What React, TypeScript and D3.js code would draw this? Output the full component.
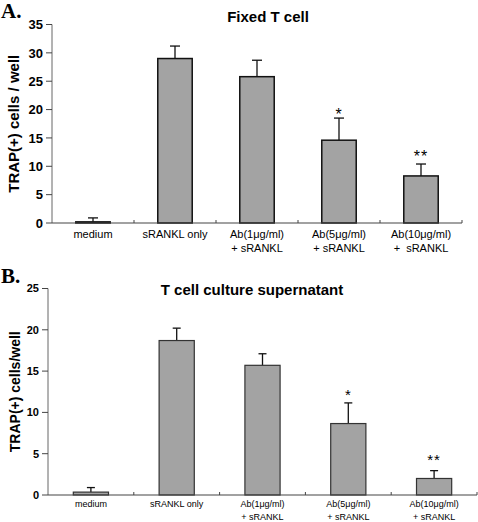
import React from "react";
import * as d3 from "d3";

const categoriesA = ["medium", "sRANKL only", "Ab(1μg/ml)\n+ sRANKL", "Ab(5μg/ml)\n+ sRANKL", "Ab(10μg/ml)\n+  sRANKL"];
const valuesA = [0.2, 29.0, 25.8, 14.6, 8.3];
const errorsA = [0.7, 2.2, 2.9, 3.9, 2.1];
const starsA = ["", "", "", "*", "**"];
const starPosA = [0, 0, 0, 19.8, 12.4];
const ticksA = [0, 5, 10, 15, 20, 25, 30, 35];

const categoriesB = ["medium", "sRANKL only", "Ab(1μg/ml)\n+ sRANKL", "Ab(5μg/ml)\n+ sRANKL", "Ab(10μg/ml)\n+ sRANKL"];
const valuesB = [0.35, 18.7, 15.7, 8.65, 2.0];
const errorsB = [0.55, 1.5, 1.4, 2.5, 0.95];
const starsB = ["", "", "", "*", "**"];
const starPosB = [0, 0, 0, 12.6, 4.7];
const ticksB = [0, 5, 10, 15, 20, 25];

const SANS = "'Liberation Sans', Arial, sans-serif";
const SERIF = "'Liberation Serif', 'Times New Roman', serif";

type PanelProps = {
  letter: string;
  letterY: number;
  title: string;
  titleX: number;
  titleY: number;
  yLabel: string;
  yLabelX: number;
  yLabelFont: number;
  categories: string[];
  values: number[];
  errors: number[];
  stars: string[];
  starPos: number[];
  ticks: number[];
  yMax: number;
  x0: number;
  x1: number;
  yTop: number;
  yBottom: number;
  tickFont: number;
  xFont: number;
  xLine1: number;
  xLineGap: number;
  barFrac: number;
  capW: number;
  barStroke: string;
  barStrokeW: number;
  starFont: number;
};

function Panel(p: PanelProps) {
  const x = d3.scaleBand<string>().domain(p.categories).range([p.x0, p.x1]).paddingInner(0).paddingOuter(0);
  const y = d3.scaleLinear().domain([0, p.yMax]).range([p.yBottom, p.yTop]);
  const bw = x.bandwidth() * p.barFrac;
  const yMid = (p.yTop + p.yBottom) / 2;
  return (
    <g>
      <text x={1} y={p.letterY} fontFamily={SERIF} fontWeight="bold" fontSize={21}>{p.letter}</text>
      <text x={p.titleX} y={p.titleY} textAnchor="middle" fontFamily={SANS} fontWeight="bold" fontSize={15}>{p.title}</text>
      <text transform={`translate(${p.yLabelX},${yMid}) rotate(-90)`} textAnchor="middle" fontFamily={SANS} fontWeight="bold" fontSize={p.yLabelFont}>{p.yLabel}</text>
      {/* y axis */}
      <line x1={p.x0} x2={p.x0} y1={y(p.yMax)} y2={p.yBottom} stroke="#666" strokeWidth={1} />
      {p.ticks.map((t) => (
        <g key={t}>
          <line x1={p.x0 - 6} x2={p.x0} y1={y(t)} y2={y(t)} stroke="#444" strokeWidth={1} />
          <text x={p.x0 - 9} y={y(t)} dy="0.36em" textAnchor="end" fontFamily={SANS} fontWeight="bold" fontSize={p.tickFont}>{t}</text>
        </g>
      ))}
      {/* bars */}
      {p.categories.map((c, i) => {
        const cx = (x(c) as number) + x.bandwidth() / 2;
        const top = y(p.values[i]);
        const et = y(p.values[i] + p.errors[i]);
        return (
          <g key={c}>
            <line x1={cx} x2={cx} y1={et} y2={top} stroke="#111" strokeWidth={1.3} />
            <line x1={cx - p.capW / 2} x2={cx + p.capW / 2} y1={et} y2={et} stroke="#111" strokeWidth={1.3} />
            <rect x={cx - bw / 2} y={top} width={bw} height={p.yBottom - top} fill="#a3a3a3" stroke={p.barStroke} strokeWidth={p.barStrokeW} />
            {p.stars[i] && (
              <text x={cx} y={y(p.starPos[i])} dy="0.6em" textAnchor="middle" fontFamily={SANS} fontSize={p.starFont} letterSpacing={1}>{p.stars[i]}</text>
            )}
          </g>
        );
      })}
      {/* x axis */}
      <line x1={p.x0} x2={p.x1} y1={p.yBottom} y2={p.yBottom} stroke="#444" strokeWidth={1.2} />
      {p.categories.map((c) => (
        <line key={"t" + c} x1={(x(c) as number) + x.bandwidth()} x2={(x(c) as number) + x.bandwidth()} y1={p.yBottom - 3} y2={p.yBottom} stroke="#444" strokeWidth={1} />
      ))}
      {p.categories.map((c) => {
        const cx = (x(c) as number) + x.bandwidth() / 2;
        const lines = c.split("\n");
        return (
          <text key={"l" + c} fontFamily={SANS} fontSize={p.xFont} textAnchor="middle" style={{ whiteSpace: "pre" }}>
            {lines.map((l, k) => (
              <tspan key={k} x={cx} y={p.xLine1 + k * p.xLineGap}>{l}</tspan>
            ))}
          </text>
        );
      })}
    </g>
  );
}

export default function App() {
  return (
    <div style={{ position: "absolute", left: 0, top: 0 }}>
      <svg width={478} height={522} style={{ display: "block", background: "#fff" }}>
        <Panel
          letter="A."
          letterY={18}
          title="Fixed T cell"
          titleX={268}
          titleY={22}
          yLabel="TRAP(+) cells / well"
          yLabelX={19}
          yLabelFont={15}
          categories={categoriesA}
          values={valuesA}
          errors={errorsA}
          stars={starsA}
          starPos={starPosA}
          ticks={ticksA}
          yMax={35}
          x0={52}
          x1={462}
          yTop={24.5}
          yBottom={223}
          tickFont={13}
          xFont={11}
          xLine1={238}
          xLineGap={14}
          barFrac={0.42}
          capW={10}
          barStroke="#111"
          barStrokeW={1.5}
          starFont={16}
        />
        <Panel
          letter="B."
          letterY={283}
          title="T cell culture supernatant"
          titleX={252}
          titleY={295}
          yLabel="TRAP(+) cells/well"
          yLabelX={20}
          yLabelFont={14}
          categories={categoriesB}
          values={valuesB}
          errors={errorsB}
          stars={starsB}
          starPos={starPosB}
          ticks={ticksB}
          yMax={25}
          x0={48}
          x1={477}
          yTop={288.5}
          yBottom={495}
          tickFont={11}
          xFont={9}
          xLine1={507}
          xLineGap={13}
          barFrac={0.41}
          capW={8}
          barStroke="#333"
          barStrokeW={1.2}
          starFont={15}
        />
      </svg>
    </div>
  );
}
